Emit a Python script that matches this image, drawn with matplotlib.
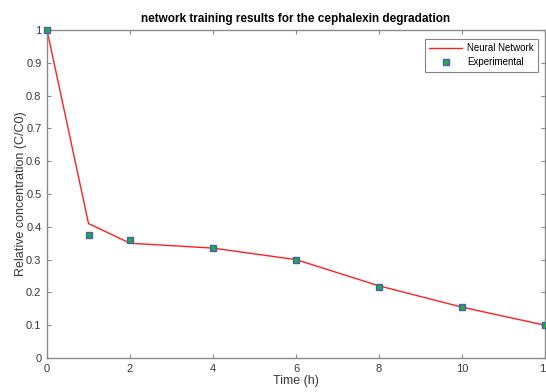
import matplotlib
matplotlib.use("Agg")
import matplotlib.pyplot as plt

plt.rcParams['font.family'] = ['Liberation Sans', 'DejaVu Sans']

time_h = [0, 1, 2, 4, 6, 8, 10, 12]
network_out = [1.0, 0.41, 0.35, 0.335, 0.30, 0.22, 0.155, 0.10]
experimental = [1.0, 0.375, 0.36, 0.335, 0.30, 0.216, 0.155, 0.10]
x_ticks = [0, 2, 4, 6, 8, 10, 12]
y_ticks = [0, 0.1, 0.2, 0.3, 0.4, 0.5, 0.6, 0.7, 0.8, 0.9, 1]

axis_gray = '#8a8a8a'
text_gray = '#3a3a3a'

fig = plt.figure(figsize=(5.46, 3.92), dpi=100)
ax = fig.add_axes([47/546, 34/392, 498/546, 328/392])

ax.plot(time_h, network_out, color='#ff2020', lw=1.0, label='Neural Network')
ax.plot(time_h, experimental, ls='none', marker='s', ms=5,
        mfc='#22aa44', mec='#4a5fb0', mew=1.0, label='Experimental',
        clip_on=False, zorder=5)

ax.set_xlim(0, 12)
ax.set_ylim(0, 1)
ax.set_xticks(x_ticks)
ax.set_yticks(y_ticks)
ax.set_xticklabels([str(t) for t in x_ticks])
ax.set_yticklabels(['0', '0.1', '0.2', '0.3', '0.4', '0.5', '0.6', '0.7', '0.8', '0.9', '1'])
ax.tick_params(direction='in', length=3, width=0.8, color=axis_gray,
               labelcolor=text_gray, labelsize=8, top=True, right=True, pad=4)
for s in ax.spines.values():
    s.set_color(axis_gray)
    s.set_linewidth(1.0)

ax.set_xlabel('Time (h)', fontsize=9, color=text_gray, labelpad=1)
ax.set_ylabel('Relative concentration (C/C0)', fontsize=9, color=text_gray, labelpad=-1)
ax.set_title('network training results for the cephalexin degradation',
             fontsize=8.5, fontweight='bold', pad=6)

leg = ax.legend(loc='upper right', bbox_to_anchor=(538/546, 353/392),
                bbox_transform=fig.transFigure,
                fontsize=7, frameon=True, fancybox=False, borderpad=0.45,
                handlelength=3.4, labelspacing=0.4, handletextpad=0.5,
                borderaxespad=0)
leg.get_frame().set_edgecolor('#666666')
leg.get_frame().set_linewidth(0.8)

fig.savefig('out.png', dpi=100)
